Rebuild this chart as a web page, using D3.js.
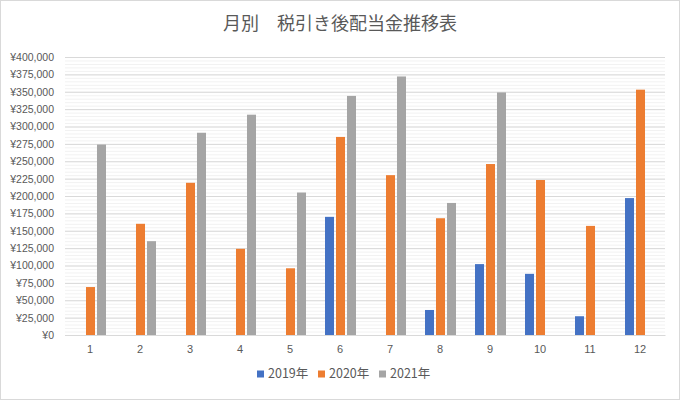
<!DOCTYPE html>
<meta charset="utf-8">
<style>
body { margin: 0; }
text { font-family: "Noto Sans CJK JP", "Noto Sans", sans-serif; fill: #595959; }
.axis--y path, .axis--y line { display: none; }
.axis--x path { stroke: #d9d9d9; }
.axis--x line { display: none; }
.grid-minor line { stroke: #f2f2f2; }
.grid-major line { stroke: #d9d9d9; }
.grid path { display: none; }
</style>
<svg width="680" height="400"></svg>
<script src="https://cdnjs.cloudflare.com/ajax/libs/d3/7.8.5/d3.min.js"></script>
<script>

var months = ["1", "2", "3", "4", "5", "6", "7", "8", "9", "10", "11", "12"];
var seriesNames = ["2019年", "2020年", "2021年"];
var colors = ["#4472c4", "#ed7d31", "#a5a5a5"];
var v2019 = [0, 0, 0, 0, 0, 170000, 0, 36000, 102000, 88000, 27000, 197000];
var v2020 = [69000, 160000, 219000, 124000, 96000, 285000, 230000, 168000, 246000, 223000, 157000, 353000];
var v2021 = [274000, 135000, 291000, 317000, 205000, 344000, 372000, 190000, 349000, 0, 0, 0];
var yTicks = d3.range(0, 400001, 25000);

var series = [v2019, v2020, v2021];

var svg = d3.select("svg"),
    margin = {top: 57, right: 15, bottom: 65, left: 65},
    width = +svg.attr("width") - margin.left - margin.right,
    height = +svg.attr("height") - margin.top - margin.bottom;

svg.append("rect")
    .attr("x", 0.5).attr("y", 0.5)
    .attr("width", 679).attr("height", 399)
    .attr("fill", "#fff").attr("stroke", "#d9d9d9");

var x = d3.scaleBand().domain(months).range([0, width]),
    x1 = d3.scaleBand().domain(seriesNames).range([10, 41]).paddingInner(0.18),
    y = d3.scaleLinear().domain([0, 400000]).range([height, 0]);

var g = svg.append("g")
    .attr("transform", "translate(" + margin.left + "," + margin.top + ")");

// light lines every 5,000, darker every 25,000
g.append("g")
    .attr("class", "grid grid-minor")
    .call(d3.axisLeft(y).tickValues(d3.range(0, 400001, 5000)).tickSize(-width).tickFormat(""));

g.append("g")
    .attr("class", "grid grid-major")
    .call(d3.axisLeft(y).tickValues(yTicks).tickSize(-width).tickFormat(""));

g.append("g")
    .attr("class", "axis axis--y")
    .call(d3.axisLeft(y).tickValues(yTicks).tickSize(0).tickPadding(11)
      .tickFormat(function(d) { return "¥" + d3.format(",")(d); }))
    .selectAll("text")
      .style("font-size", "10.5px")
      .style("font-family", "'Liberation Sans', sans-serif");

series.forEach(function(vals, si) {
  g.selectAll(".bar" + si)
    .data(vals.map(function(v, i) { return {m: months[i], v: v}; }).filter(function(d) { return d.v > 0; }))
    .enter().append("rect")
      .attr("x", function(d) { return x(d.m) + x1(seriesNames[si]); })
      .attr("y", function(d) { return y(d.v); })
      .attr("width", x1.bandwidth())
      .attr("height", function(d) { return height - y(d.v); })
      .attr("fill", colors[si]);
});

g.append("g")
    .attr("class", "axis axis--x")
    .attr("transform", "translate(0," + height + ")")
    .call(d3.axisBottom(x).tickSize(0).tickPadding(10))
    .selectAll("text")
      .style("font-size", "11px")
      .style("font-family", "'Liberation Sans', sans-serif");

svg.append("text")
    .attr("x", 340).attr("y", 30)
    .attr("text-anchor", "middle")
    .style("font-size", "18px")
    .text("月別　税引き後配当金推移表");

var legend = svg.append("g").attr("transform", "translate(257,378)");
var lx = 0;
seriesNames.forEach(function(name, i) {
  var item = legend.append("g").attr("transform", "translate(" + lx + ",0)");
  item.append("rect").attr("x", 0).attr("y", -7.5).attr("width", 7).attr("height", 7).attr("fill", colors[i]);
  item.append("text").attr("x", 11).attr("y", 0).style("font-size", "12.5px").text(name);
  lx += 61;
});

</script>
